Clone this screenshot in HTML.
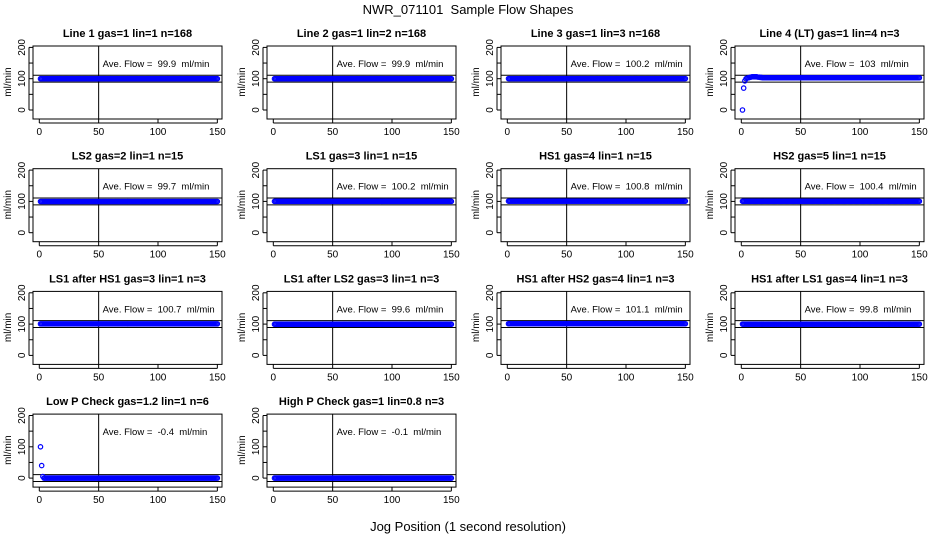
<!DOCTYPE html>
<html><head><meta charset="utf-8"><style>
html,body{margin:0;padding:0;background:#fff;}
svg{display:block;font-family:"Liberation Sans",Arial,sans-serif;}
text{white-space:pre;}
</style></head><body>
<svg id="chart" width="936" height="540" viewBox="0 0 936 540">
<text x="468" y="14" text-anchor="middle" font-size="13">NWR_071101  Sample Flow Shapes</text>
<text x="468" y="531" text-anchor="middle" font-size="13">Jog Position (1 second resolution)</text>
</svg>
<script>
const titles = ["Line 1 gas=1 lin=1 n=168","Line 2 gas=1 lin=2 n=168","Line 3 gas=1 lin=3 n=168","Line 4 (LT) gas=1 lin=4 n=3",
"LS2 gas=2 lin=1 n=15","LS1 gas=3 lin=1 n=15","HS1 gas=4 lin=1 n=15","HS2 gas=5 lin=1 n=15",
"LS1 after HS1 gas=3 lin=1 n=3","LS1 after LS2 gas=3 lin=1 n=3","HS1 after HS2 gas=4 lin=1 n=3","HS1 after LS1 gas=4 lin=1 n=3",
"Low P Check gas=1.2 lin=1 n=6","High P Check gas=1 lin=0.8 n=3"];
const aveFlow = ["99.9","99.9","100.2","103","99.7","100.2","100.8","100.4","100.7","99.6","101.1","99.8","-0.4","-0.1"];
const steadyFlow = [99.9,99.9,100.2,103,99.7,100.2,100.8,100.4,100.7,99.6,101.1,99.8,0,0];
const startFlow = [[],[],[],[0,70,93,100,102,103,104,105,106,106,106,106,106,105,105,104,104,103],
[],[],[],[],[],[],[],[],[100,40,5],[]];
const refCenter = [100,100,100,100,100,100,100,100,100,100,100,100,0,0];
const xTicks = [0,50,100,150];
const yTicks = [0,50,100,150,200];
const yLabels = [0,100,200];
const nPoints = 150;

const svg = document.getElementById('chart');
const NS = 'http://www.w3.org/2000/svg';
function mk(tag, attrs, parent){const e=document.createElementNS(NS,tag);for(const k in attrs)e.setAttribute(k,attrs[k]);(parent||svg).appendChild(e);return e;}

titles.forEach((t,i)=>{
  const c=i%4, r=Math.floor(i/4);
  const L=33+234*c, T=46+122.7*r, W=189, H=73;
  const X=v=>L+6.3+v*1.187;
  const Y=v=>T+64-v*0.313;
  const g=mk('g',{});
  
  
  const tt=mk('text',{x:L+W/2,y:T-9,'text-anchor':'middle','font-size':'11','font-weight':'bold'},g);
  tt.textContent=t;
  
  
  const yl=mk('text',{x:0,y:0,'text-anchor':'middle','font-size':'10',transform:`translate(${L-22},${T+36}) rotate(-90)`},g);
  yl.textContent='ml/min';
  
  
  [refCenter[i]-11,refCenter[i]+11].forEach(v=>{
    const l=mk('line',{x1:L,x2:L+W,y1:Y(v),y2:Y(v),stroke:'#000','stroke-width':1},g);
    
    
  });
  const vl=mk('line',{x1:X(50),x2:X(50),y1:T,y2:T+H,stroke:'#000','stroke-width':1},g);
  
  
  const vals=[];
  for(let k=0;k<nPoints;k++){vals.push(k<startFlow[i].length?startFlow[i][k]:steadyFlow[i]);}
  vals.forEach((v,k)=>{
    const p=mk('circle',{cx:X(k+1),cy:Y(v),r:2.2,fill:'none',stroke:'#0000ff','stroke-width':1.2},g);
    
    
  });
  const box=mk('rect',{x:L,y:T,width:W,height:H,fill:'none',stroke:'#000','stroke-width':1},g);
  
  
  const av=mk('text',{x:X(50)+4,y:T+21,'font-size':'9.5'},g);
  av.textContent='Ave. Flow =  '+aveFlow[i]+'  ml/min';
  
  
  xTicks.forEach(v=>{
    mk('line',{x1:X(v),x2:X(v),y1:T+H,y2:T+H+4,stroke:'#000'},g);
    const tx=mk('text',{x:X(v),y:T+H+16,'text-anchor':'middle','font-size':'10'},g);
    tx.textContent=v;
    
    
  });
  mk('line',{x1:X(0),x2:X(150),y1:T+H+4,y2:T+H+4,stroke:'#000'},g);
  yTicks.forEach(v=>{
    mk('line',{x1:L-4,x2:L,y1:Y(v),y2:Y(v),stroke:'#000'},g);
  });
  mk('line',{x1:L-4,x2:L-4,y1:Y(0),y2:Y(200),stroke:'#000'},g);
  yLabels.forEach(v=>{
    const ty=mk('text',{x:0,y:0,'text-anchor':'middle','font-size':'10',transform:`translate(${L-8},${Y(v)}) rotate(-90)`},g);
    ty.textContent=v;
    
    
  });
});
</script>
</body></html>
